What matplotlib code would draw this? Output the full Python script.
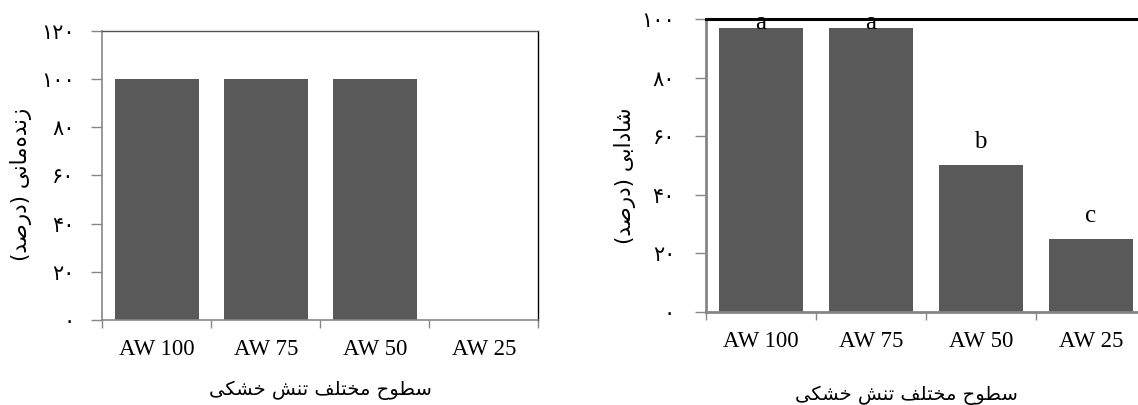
import matplotlib
matplotlib.use('Agg')
import matplotlib.pyplot as plt
from matplotlib.ticker import FuncFormatter

categories = ['AW 100', 'AW 75', 'AW 50', 'AW 25']
survival = [100, 100, 100, 0]
vigor = [97, 97, 50, 25]
vigor_letters = ['a', 'a', 'b', 'c']

survival_label = 'زنده\u200cمانی (درصد)'
vigor_label = 'شادابی (درصد)'
x_label = 'سطوح مختلف تنش خشکی'

# presentation forms: isolated, final, initial, medial (None = right-joining only)
FORMS = {
    'ا': ('\uFE8D', '\uFE8E', None, None),
    'ب': ('\uFE8F', '\uFE90', '\uFE91', '\uFE92'),
    'ت': ('\uFE95', '\uFE96', '\uFE97', '\uFE98'),
    'ح': ('\uFEA1', '\uFEA2', '\uFEA3', '\uFEA4'),
    'خ': ('\uFEA5', '\uFEA6', '\uFEA7', '\uFEA8'),
    'د': ('\uFEA9', '\uFEAA', None, None),
    'ر': ('\uFEAD', '\uFEAE', None, None),
    'ز': ('\uFEAF', '\uFEB0', None, None),
    'س': ('\uFEB1', '\uFEB2', '\uFEB3', '\uFEB4'),
    'ش': ('\uFEB5', '\uFEB6', '\uFEB7', '\uFEB8'),
    'ص': ('\uFEB9', '\uFEBA', '\uFEBB', '\uFEBC'),
    'ط': ('\uFEC1', '\uFEC2', '\uFEC3', '\uFEC4'),
    'ف': ('\uFED1', '\uFED2', '\uFED3', '\uFED4'),
    'ل': ('\uFEDD', '\uFEDE', '\uFEDF', '\uFEE0'),
    'م': ('\uFEE1', '\uFEE2', '\uFEE3', '\uFEE4'),
    'ن': ('\uFEE5', '\uFEE6', '\uFEE7', '\uFEE8'),
    'ه': ('\uFEE9', '\uFEEA', '\uFEEB', '\uFEEC'),
    'و': ('\uFEED', '\uFEEE', None, None),
    'ی': ('\uFBFC', '\uFBFD', '\uFBFE', '\uFBFF'),
    'ک': ('\uFB8E', '\uFB8F', '\uFB90', '\uFB91'),
}


def shape(text):
    # poor man's arabic shaping + rtl, matplotlib does neither
    out = []
    for i, ch in enumerate(text):
        if ch not in FORMS:
            if ch != '\u200c':
                out.append(ch)
            continue
        prev = text[i - 1] if i > 0 else ''
        nxt = text[i + 1] if i + 1 < len(text) else ''
        iso, fin, ini, med = FORMS[ch]
        j_prev = prev in FORMS and FORMS[prev][2] is not None
        j_next = ini is not None and nxt in FORMS
        if j_prev and j_next:
            out.append(med)
        elif j_prev:
            out.append(fin)
        elif j_next:
            out.append(ini)
        else:
            out.append(iso)
    return ''.join(reversed(out)).translate(str.maketrans('()', ')('))


def fa_digits(v, pos=None):
    return str(int(v)).translate(str.maketrans('0123456789', '۰۱۲۳۴۵۶۷۸۹'))


W, H = 1138, 405
fig = plt.figure(figsize=(W / 100, H / 100), dpi=100)
bar_color = '#595959'
grey = '#868686'
serif = ['Liberation Serif', 'DejaVu Sans']
fa_font = 'DejaVu Sans'

# ---- left: survival
ax1 = fig.add_axes([102.3 / W, (H - 320) / H, 436 / W, 289.3 / H])
ax1.bar(range(4), survival, width=0.77, color=bar_color, zorder=2)
ax1.set_xlim(-0.5, 3.5)
ax1.set_ylim(0, 120)
ax1.set_yticks(range(0, 121, 20))
ax1.yaxis.set_major_formatter(FuncFormatter(fa_digits))
ax1.set_xticks([-0.5, 0.5, 1.5, 2.5, 3.5], minor=False)
ax1.set_xticklabels([])
ax1.set_xticks(range(4), minor=True)
ax1.set_xticklabels(categories, minor=True, family=serif, fontsize=16.5)
ax1.tick_params(axis='x', which='minor', length=0, pad=14)
ax1.tick_params(axis='x', which='major', direction='out', length=6, width=1, color=grey)
ax1.tick_params(axis='y', direction='out', length=8, width=1, color=grey, pad=12, labelsize=15)
for lab in ax1.get_yticklabels():
    lab.set_family(fa_font)
for side in ['left', 'bottom']:
    ax1.spines[side].set_color(grey)
    ax1.spines[side].set_linewidth(1.2)
ax1.spines['top'].set_color('#555555')
ax1.spines['top'].set_linewidth(1)
ax1.spines['right'].set_color('black')
ax1.spines['right'].set_linewidth(1)

# ---- right: vigor
ax2 = fig.add_axes([705.7 / W, (H - 311.7) / H, 440 / W, 292.7 / H])
ax2.bar(range(4), vigor, width=0.767, color=bar_color, zorder=2)
for i, (v, t) in enumerate(zip(vigor, vigor_letters)):
    ax2.text(i, min(v + 5.8, 96.5), t, ha='center', va='baseline',
             family=serif, fontsize=18, zorder=2.2)
ax2.set_xlim(-0.5, 3.5)
ax2.set_ylim(0, 100)
ax2.set_yticks(range(0, 101, 20))
ax2.yaxis.set_major_formatter(FuncFormatter(fa_digits))
ax2.set_xticks([-0.5, 0.5, 1.5, 2.5, 3.5], minor=False)
ax2.set_xticklabels([])
ax2.set_xticks(range(4), minor=True)
ax2.set_xticklabels(categories, minor=True, family=serif, fontsize=16.5)
ax2.tick_params(axis='x', which='minor', length=0, pad=14)
ax2.tick_params(axis='x', which='major', direction='out', length=6, width=1, color=grey)
ax2.tick_params(axis='y', direction='out', length=8, width=1, color=grey, pad=14, labelsize=15)
for lab in ax2.get_yticklabels():
    lab.set_family(fa_font)
for side in ['left', 'bottom']:
    ax2.spines[side].set_color(grey)
    ax2.spines[side].set_linewidth(2)
ax2.spines['top'].set_color('black')
ax2.spines['top'].set_linewidth(2.2)
ax2.spines['right'].set_visible(False)

# axis titles, placed in pixels like the original
fig.text(21 / W, 1 - 184 / H, shape(survival_label), rotation=90, ha='center', va='center',
         family=fa_font, fontsize=15.5)
fig.text(625 / W, 1 - 176 / H, shape(vigor_label), rotation=90, ha='center', va='center',
         family=fa_font, fontsize=15.5)
fig.text(320 / W, 1 - 390 / H, shape(x_label), ha='center', va='center',
         family=fa_font, fontsize=14)
fig.text(906 / W, 1 - 395 / H, shape(x_label), ha='center', va='center',
         family=fa_font, fontsize=14)

fig.savefig('out.png', dpi=100)
